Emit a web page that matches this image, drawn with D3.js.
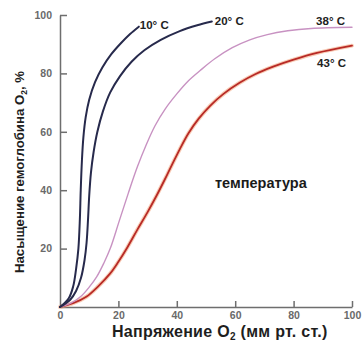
<!DOCTYPE html>
<html>
<head>
<meta charset="utf-8">
<script src="https://cdn.jsdelivr.net/npm/d3@7"></script>
<style>
  html, body { margin: 0; padding: 0; background: #fff; }
  svg { display: block; font-family: "Liberation Sans", Arial, sans-serif; }
</style>
</head>
<body>
<svg id="chart" width="364" height="347"></svg>
<script>
// Oxygen–haemoglobin dissociation curves at four temperatures
const temperatures = ["10° C", "20° C", "38° C", "43° C"];

const curve10 = [[0,0],[3,3],[4.5,7],[5.5,13],[6.3,20],[6.8,30],[7.1,40],[7.5,50],[8,58],[8.8,65],[10,71],[12,77],[14.5,82],[17.5,86.5],[21,90.5],[24,93.5],[27,96]];
const curve20 = [[0,0],[3.5,2.5],[5.5,5.5],[7.2,10],[8.4,16],[9.1,22],[9.6,30],[10,38],[10.6,46],[11.5,53],[12.8,60],[14.7,67],[17.2,73.5],[20.5,79],[24.5,84],[29,88],[34.5,91.5],[41,94.5],[47,96.5],[52,97.8]];
const curve38 = [[0,0],[3.5,1.2],[7,3.5],[10,6.8],[12.6,10.4],[15,15],[17.2,20],[20.3,29.5],[23.4,39],[26.5,48],[29.5,55.5],[32.5,62],[36,67.8],[40,73],[44,77.5],[48,81],[53,85],[59,88.8],[65,91.5],[71,93.3],[78,94.6],[86,95.4],[100,95.8]];
const curve43 = [[0,0],[4.5,1.3],[9,3.5],[13,7],[17.2,11.5],[20,15.5],[23,20.3],[26.5,26.5],[30,32.5],[33,38],[35.8,43.5],[38.5,49],[41,54],[44,59.5],[47.5,64.5],[51.5,69],[56,73],[61.5,76.8],[67,79.8],[73,82.3],[80,84.7],[88,87],[100,89.5]];

const xTicks = [0, 20, 40, 60, 80, 100];
const yTicks = [20, 40, 60, 80, 100];

const svg = d3.select("#chart");
const x = d3.scaleLinear().domain([0, 100]).range([60, 352]);
const y = d3.scaleLinear().domain([0, 100]).range([307, 15]);

// Axes: ticks point into the plot
const xAxis = svg.append("g")
  .attr("transform", `translate(0,${y(0)})`)
  .call(d3.axisBottom(x).tickValues(xTicks).tickSizeInner(-6).tickSizeOuter(0).tickPadding(5));
const yAxis = svg.append("g")
  .attr("transform", `translate(${x(0)},0)`)
  .call(d3.axisLeft(y).tickValues(yTicks).tickSizeInner(-7).tickSizeOuter(0).tickPadding(8));

[xAxis, yAxis].forEach(g => {
  g.selectAll("path.domain").attr("stroke", "#6e6e6e").attr("stroke-width", 1.5);
  g.selectAll(".tick line").attr("stroke", "#6e6e6e").attr("stroke-width", 1.5);
  g.selectAll(".tick text")
    .attr("fill", "#6a6a6a")
    .style("font-size", "10.5px")
    .style("font-weight", "bold")
    .style("font-family", "'Liberation Sans', Arial, sans-serif");
});
xAxis.selectAll(".tick").filter(d => d === 0).select("line").remove();

const line = d3.line()
  .x(d => x(d[0]))
  .y(d => y(d[1]))
  .curve(d3.curveCatmullRom.alpha(0.5));

const plot = svg.append("g").attr("fill", "none").attr("stroke-linecap", "round");

// 43° C: dark red stroke with a soft orange rim
plot.append("path").attr("d", line(curve43))
  .attr("stroke", "#f3a27a").attr("stroke-width", 4).attr("stroke-opacity", 0.55);
plot.append("path").attr("d", line(curve43))
  .attr("stroke", "#b82a26").attr("stroke-width", 1.8);

// 38° C: thin mauve line
plot.append("path").attr("d", line(curve38))
  .attr("stroke", "#c892c2").attr("stroke-width", 1.4);

// 20° C and 10° C: dark navy lines
plot.append("path").attr("d", line(curve20))
  .attr("stroke", "#272a4c").attr("stroke-width", 2);
plot.append("path").attr("d", line(curve10))
  .attr("stroke", "#272a4c").attr("stroke-width", 2);

// Curve labels
const labelStyle = sel => sel
  .attr("fill", "#222")
  .style("font-size", "11.5px")
  .style("font-weight", "bold");

const last = arr => arr[arr.length - 1];
svg.append("text").text(temperatures[0]).call(labelStyle)
  .attr("x", x(last(curve10)[0]) + 1).attr("y", y(last(curve10)[1]) + 2);
svg.append("text").text(temperatures[1]).call(labelStyle)
  .attr("x", x(last(curve20)[0]) + 3).attr("y", y(last(curve20)[1]) + 4);
svg.append("text").text(temperatures[2]).call(labelStyle)
  .attr("text-anchor", "end")
  .attr("x", x(100) - 7).attr("y", y(last(curve38)[1]) - 2);
svg.append("text").text(temperatures[3]).call(labelStyle)
  .attr("text-anchor", "end")
  .attr("x", x(100) - 6).attr("y", y(last(curve43)[1]) + 21);

// Inline note
svg.append("text").text("температура")
  .attr("x", 215).attr("y", 188)
  .attr("fill", "#1a1a1a")
  .style("font-size", "14.5px")
  .style("font-weight", "bold");

// Axis titles with O₂ subscripts
const xt = svg.append("text")
  .attr("x", 112).attr("y", 337)
  .attr("fill", "#1e1e1e")
  .style("font-size", "16px")
  .style("letter-spacing", "0.3px")
  .style("font-weight", "bold");
xt.append("tspan").text("Напряжение O");
xt.append("tspan").text("2").style("font-size", "10px").attr("dy", 3);
xt.append("tspan").text(" (мм рт. ст.)").attr("dy", -3);

const yt = svg.append("text")
  .attr("transform", "translate(24,273) rotate(-90)")
  .attr("fill", "#1e1e1e")
  .style("font-size", "13.2px")
  .style("font-weight", "bold");
yt.append("tspan").text("Насыщение гемоглобина O");
yt.append("tspan").text("2").style("font-size", "8.5px").attr("dy", 3);
yt.append("tspan").text(", %").attr("dy", -3);
</script>
</body>
</html>
